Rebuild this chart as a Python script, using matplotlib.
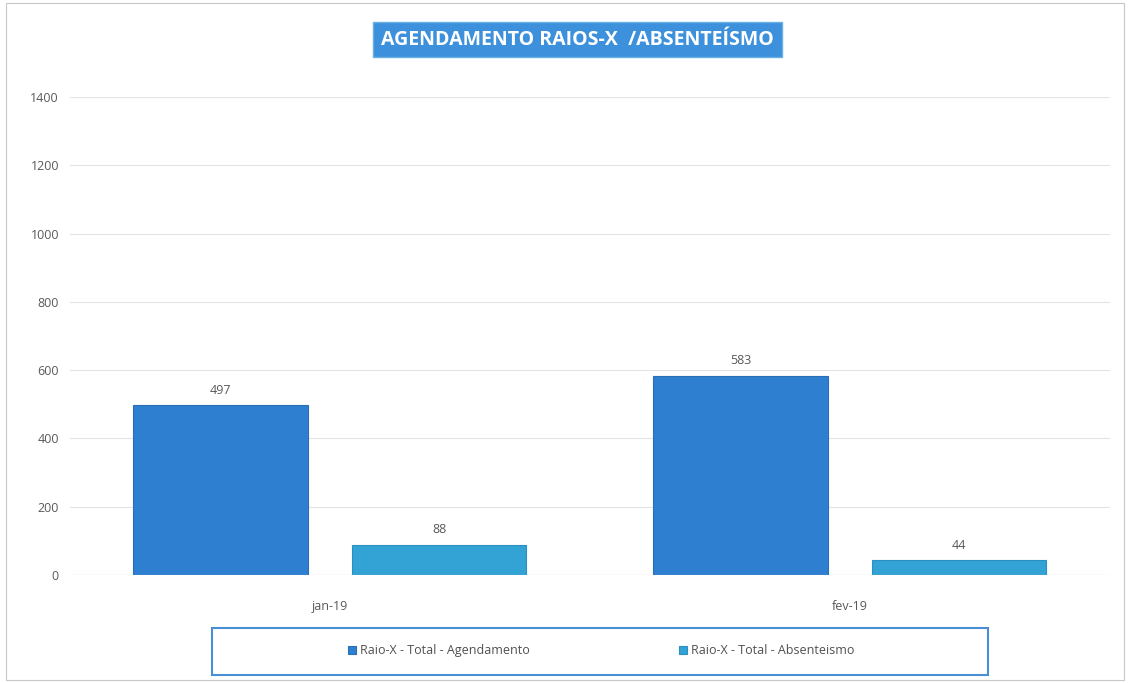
import matplotlib.pyplot as plt
import numpy as np
from matplotlib.patches import Rectangle

plt.rcParams['font.family'] = ['Open Sans', 'DejaVu Sans']

meses = ['jan-19', 'fev-19']
agendamento = [497, 583]
absenteismo = [88, 44]
series_nomes = ['Raio-X - Total - Agendamento', 'Raio-X - Total - Absenteismo']
cores = ['#2e7fcf', '#33a3d6']

fig = plt.figure(figsize=(11.3, 6.83), dpi=100)
ax = fig.add_axes([0.062, 0.158, 0.92, 0.70])

x = np.arange(len(meses))
w = 0.336
b1 = ax.bar(x - 0.21, agendamento, w, color=cores[0], edgecolor='#2a6fb3', linewidth=0.8,
            label=series_nomes[0])
b2 = ax.bar(x + 0.21, absenteismo, w, color=cores[1], edgecolor='#2b8fc0', linewidth=0.8,
            label=series_nomes[1])

for bars in (b1, b2):
    for r in bars:
        ax.text(r.get_x() + r.get_width() / 2, r.get_height() + 25, str(int(r.get_height())),
                ha='center', va='bottom', fontsize=9, color='#595959')

ax.set_xlim(-0.5, 1.5)
ax.set_ylim(0, 1400)
ax.set_yticks(range(0, 1401, 200))
ax.set_xticks(x)
ax.set_xticklabels(meses)
ax.tick_params(axis='both', length=0, labelsize=9, labelcolor='#595959', pad=8)
ax.tick_params(axis='x', pad=18)
ax.yaxis.grid(True, color='#e3e3e3', linewidth=0.8)
ax.set_axisbelow(True)
for s in ax.spines.values():
    s.set_visible(False)
ax.axhline(0, color='#d0d0d0', linewidth=0.8)

# titulo em caixa azul
fig.text(0.511, 0.942, 'AGENDAMENTO RAIOS-X  /ABSENTEÍSMO', ha='center', va='center',
         fontsize=14, fontweight='bold', color='white',
         bbox=dict(boxstyle='square,pad=0.4', facecolor='#3d91dc', edgecolor='#6aaee6'))

# legenda com borda azul
leg_box = Rectangle((212 / 1130, 1 - 675 / 683), 776 / 1130, 47 / 683, transform=fig.transFigure,
                    fill=False, edgecolor='#4a8fd6', linewidth=1.5)
fig.add_artist(leg_box)
fig.legend(handles=[b1, b2], labels=series_nomes, loc='center', bbox_to_anchor=(0.532, 0.047),
           ncol=2, frameon=False, fontsize=9, handlelength=0.6, handleheight=0.6,
           handletextpad=0.3, columnspacing=12, labelcolor='#505050')

# borda externa
fig.add_artist(Rectangle((0.005, 0.005), 0.99, 0.99, transform=fig.transFigure, fill=False,
                         edgecolor='#c8c8c8', linewidth=0.8))

fig.savefig('out.png', dpi=100)
